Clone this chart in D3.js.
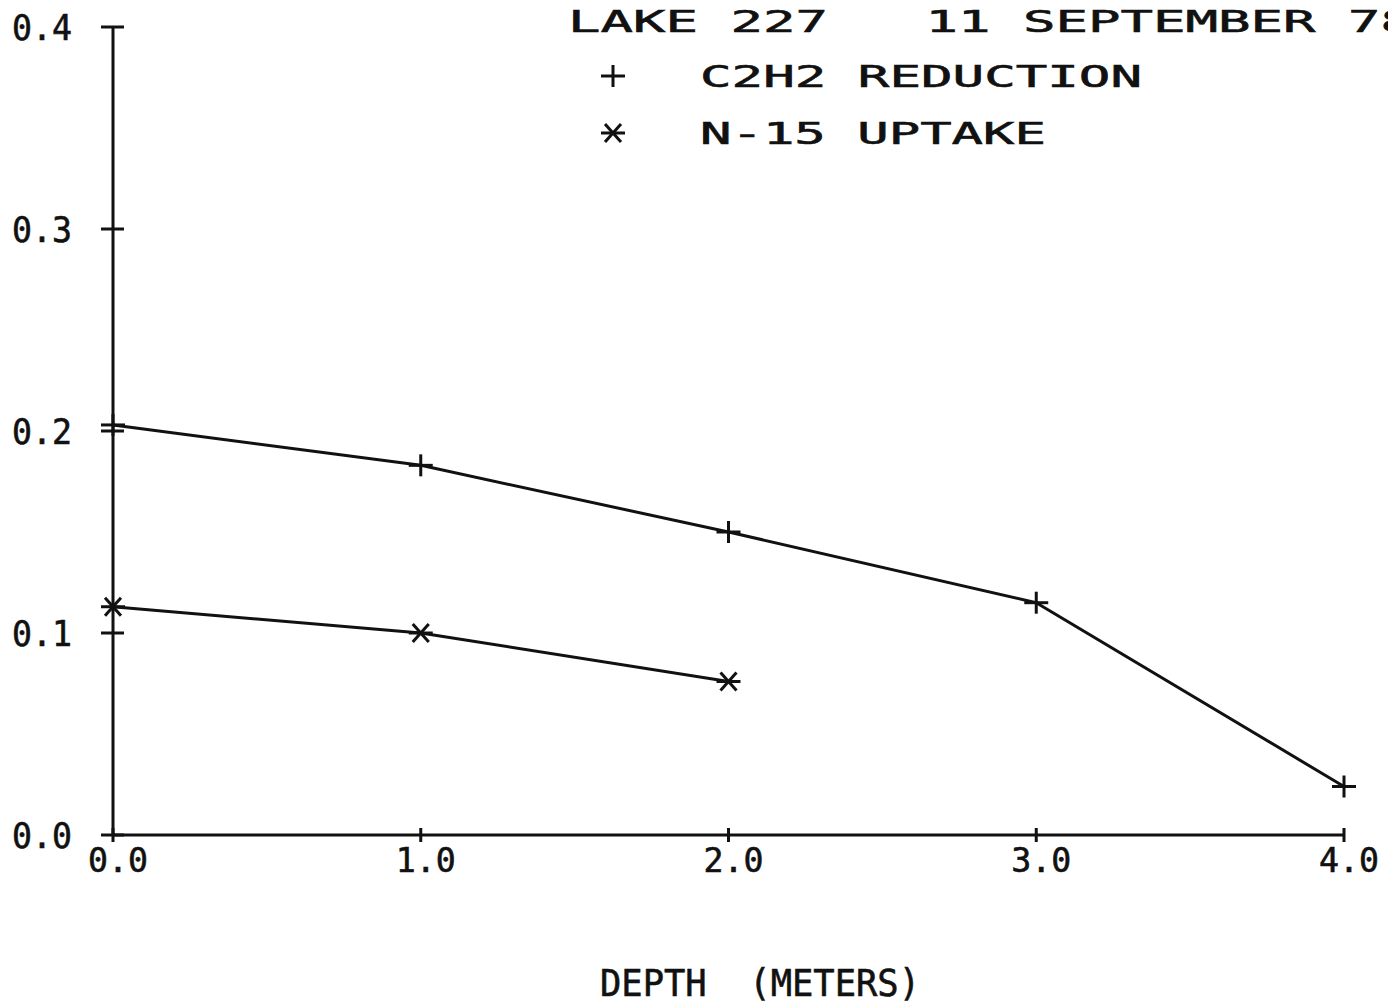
<!DOCTYPE html>
<html>
<head>
<meta charset="utf-8">
<script src="https://cdn.jsdelivr.net/npm/d3@7/dist/d3.min.js"></script>
<style>
  html, body { margin: 0; padding: 0; background: #fff; }
  svg { display: block; }
  text { font-family: "DejaVu Sans Mono", monospace; fill: #111; stroke: #111; stroke-width: 0.6; white-space: pre; }
</style>
</head>
<body>
<svg id="chart" width="1388" height="1006"></svg>
<script>
// Depth profile, Lake 227, 11 September 78
const depths = [0, 1, 2, 3, 4];
const c2h2Reduction = [0.203, 0.183, 0.150, 0.115, 0.024];
const n15Depths = [0, 1, 2];
const n15Uptake = [0.113, 0.100, 0.076];
const xTicks = [0, 1, 2, 3, 4];
const yTicks = [0, 0.1, 0.2, 0.3, 0.4];
const titleText = "LAKE 227   11 SEPTEMBER 78";
const seriesNames = ["C2H2 REDUCTION", "N-15 UPTAKE"];
const xAxisTitle = "DEPTH  (METERS)";

const svg = d3.select("#chart");
const ink = "#111";

const x = d3.scaleLinear().domain([0, 4]).range([113, 1344]);
const y = d3.scaleLinear().domain([0, 0.4]).range([835, 27]);

// Axes: plain lines with cross ticks, pen-plotter style
const axisG = svg.append("g").attr("stroke", ink).attr("stroke-width", 3).attr("fill", "none");
axisG.append("line").attr("x1", x(0)).attr("x2", x(4)).attr("y1", y(0)).attr("y2", y(0));
axisG.append("line").attr("x1", x(0)).attr("x2", x(0)).attr("y1", y(0)).attr("y2", y(0.4));

axisG.selectAll(".yt").data(yTicks).join("line")
  .attr("x1", x(0) - 12).attr("x2", x(0) + 11)
  .attr("y1", d => y(d)).attr("y2", d => y(d));
axisG.selectAll(".xt").data(xTicks).join("line")
  .attr("x1", d => x(d)).attr("x2", d => x(d))
  .attr("y1", y(0) - 7).attr("y2", y(0) + 7);

// Tick labels
const fmt = d3.format(".1f");
svg.selectAll(".ylab").data(yTicks).join("text")
  .attr("x", 12).attr("y", d => y(d) + 13)
  .attr("font-size", 35)
  .attr("textLength", 60).attr("lengthAdjust", "spacingAndGlyphs")
  .text(fmt);

svg.selectAll(".xlab").data(xTicks).join("text")
  .attr("x", d => x(d) + 5).attr("y", y(0) + 37)
  .attr("text-anchor", "middle")
  .attr("font-size", 33)
  .attr("textLength", 60).attr("lengthAdjust", "spacingAndGlyphs")
  .text(fmt);

// Axis title
svg.append("text")
  .attr("x", 600).attr("y", 996)
  .attr("font-size", 37)
  .attr("textLength", 320).attr("lengthAdjust", "spacingAndGlyphs")
  .text(xAxisTitle);

// Title
svg.append("text")
  .attr("x", 568).attr("y", 32)
  .attr("font-size", 31)
  .attr("textLength", 845).attr("lengthAdjust", "spacingAndGlyphs")
  .text(titleText);

// Marker shapes
function plus(g) {
  g.append("line").attr("x1", -12).attr("x2", 12).attr("y1", 0).attr("y2", 0);
  g.append("line").attr("x1", 0).attr("x2", 0).attr("y1", -11).attr("y2", 11);
}
function star(g) {
  g.append("line").attr("x1", -12).attr("x2", 12).attr("y1", 0).attr("y2", 0);
  g.append("line").attr("x1", -8).attr("x2", 8).attr("y1", -9).attr("y2", 9);
  g.append("line").attr("x1", -8).attr("x2", 8).attr("y1", 9).attr("y2", -9);
}

// Legend
const legendRows = [
  { name: seriesNames[0], marker: plus, y: 87 },
  { name: seriesNames[1], marker: star, y: 144 }
];
legendRows.forEach(r => {
  const m = svg.append("g")
    .attr("transform", `translate(613,${r.y - 11})`)
    .attr("stroke", ink).attr("stroke-width", 3);
  r.marker(m);
  svg.append("text")
    .attr("x", 700).attr("y", r.y)
    .attr("font-size", 31)
    .attr("textLength", r.name.length * 32 - 6).attr("lengthAdjust", "spacingAndGlyphs")
    .text(r.name);
});

// Series lines and markers
const line = d3.line().x(d => x(d[0])).y(d => y(d[1]));
const series = [
  { pts: d3.zip(depths, c2h2Reduction), marker: plus },
  { pts: d3.zip(n15Depths, n15Uptake), marker: star }
];
series.forEach(s => {
  svg.append("path").datum(s.pts)
    .attr("d", line)
    .attr("fill", "none").attr("stroke", ink).attr("stroke-width", 3)
    .attr("stroke-linejoin", "round");
  s.pts.forEach(p => {
    const g = svg.append("g")
      .attr("transform", `translate(${x(p[0])},${y(p[1])})`)
      .attr("stroke", ink).attr("stroke-width", 3);
    s.marker(g);
  });
});
</script>
</body>
</html>
